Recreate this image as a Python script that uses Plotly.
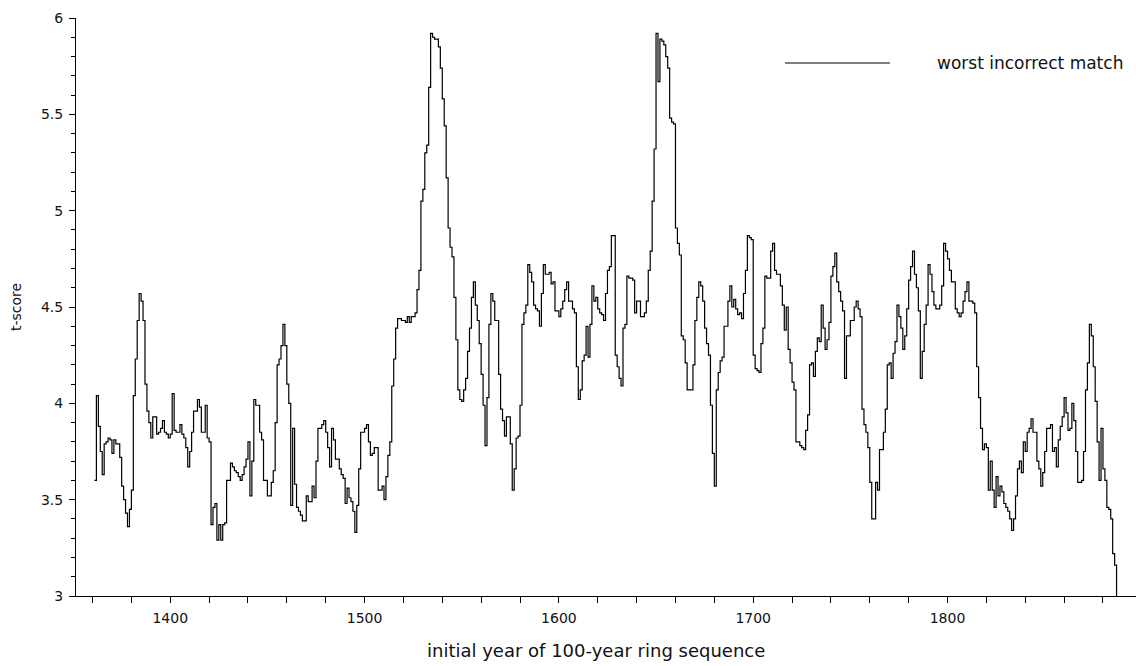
import plotly.graph_objects as go

# t-score of worst incorrect match vs. initial year of 100-year ring sequence
years_a = [1361, 1362, 1363, 1364, 1365, 1366, 1367, 1368, 1369, 1370, 1371, 1372, 1374, 1375,
           1376, 1377, 1378, 1379, 1380, 1381, 1382, 1383, 1384, 1385, 1386, 1387, 1388, 1389,
           1390, 1391, 1392, 1393, 1394, 1395, 1396, 1397, 1398, 1399, 1400, 1401, 1402, 1403,
           1404, 1405, 1406, 1407, 1408, 1409, 1410, 1411, 1412, 1414, 1415, 1416, 1417, 1418,
           1419, 1420, 1421, 1422, 1423, 1424, 1425, 1426, 1427, 1428, 1429, 1430, 1431, 1432,
           1433, 1434, 1435, 1436, 1437, 1438, 1439, 1440, 1441, 1442, 1443, 1444, 1446, 1447,
           1448, 1449, 1450, 1451, 1452, 1453, 1454, 1455, 1456, 1457, 1458, 1459, 1460, 1461,
           1462, 1463, 1464]
tscore_a = [3.60, 4.04, 3.88, 3.75, 3.63, 3.79, 3.80, 3.82, 3.81, 3.74, 3.81, 3.79, 3.72, 3.57,
            3.50, 3.43, 3.36, 3.45, 3.55, 4.04, 4.23, 4.43, 4.57, 4.53, 4.43, 4.10, 3.96, 3.90,
            3.82, 3.93, 3.93, 3.84, 3.85, 3.87, 3.91, 3.85, 3.84, 3.82, 3.84, 4.05, 3.86, 3.85,
            3.85, 3.89, 3.84, 3.82, 3.77, 3.67, 3.75, 3.85, 3.96, 4.02, 3.98, 3.85, 3.85, 3.99,
            3.82, 3.80, 3.37, 3.46, 3.48, 3.29, 3.37, 3.29, 3.37, 3.38, 3.60, 3.60, 3.69, 3.67,
            3.65, 3.64, 3.62, 3.60, 3.63, 3.67, 3.71, 3.80, 3.52, 3.70, 4.02, 3.99, 3.85, 3.81,
            3.60, 3.60, 3.52, 3.52, 3.59, 3.65, 3.90, 4.20, 4.23, 4.30, 4.41, 4.30, 4.10, 4.00,
            3.47, 3.87, 3.58]

years_b = [1465, 1466, 1467, 1468, 1469, 1470, 1471, 1472, 1473, 1474, 1475, 1476, 1477, 1478,
           1479, 1480, 1481, 1482, 1483, 1484, 1485, 1487, 1488, 1489, 1490, 1491, 1492, 1493,
           1494, 1495, 1496, 1497, 1498, 1500, 1501, 1502, 1503, 1504, 1505, 1506, 1507, 1508,
           1509, 1510, 1511, 1512, 1513, 1514, 1515, 1516, 1517, 1518, 1519, 1521, 1522, 1523,
           1524, 1525, 1526, 1527, 1528, 1529, 1530, 1531, 1532, 1533, 1534, 1535, 1536, 1537,
           1538, 1539, 1540, 1541, 1542, 1543, 1544, 1545, 1546, 1547, 1548, 1549, 1550, 1551,
           1552, 1553, 1554, 1555, 1556, 1557, 1558, 1559, 1560, 1561, 1562, 1563, 1564, 1565,
           1566, 1567, 1568, 1569, 1570, 1571, 1572, 1573, 1574, 1575, 1576, 1577, 1578, 1579,
           1580, 1581, 1582, 1583, 1584, 1585, 1586, 1587, 1588, 1589, 1590, 1591, 1592, 1593,
           1594, 1595, 1596, 1597, 1598, 1599, 1600, 1601, 1602, 1603, 1604, 1605, 1606, 1607,
           1608, 1609, 1610, 1611]
tscore_b = [3.46, 3.44, 3.42, 3.39, 3.39, 3.52, 3.49, 3.49, 3.57, 3.51, 3.70, 3.87, 3.87, 3.89,
            3.91, 3.85, 3.77, 3.67, 3.87, 3.81, 3.71, 3.66, 3.63, 3.61, 3.48, 3.56, 3.51, 3.49,
            3.44, 3.33, 3.47, 3.66, 3.85, 3.87, 3.89, 3.80, 3.73, 3.74, 3.77, 3.77, 3.55, 3.55,
            3.57, 3.50, 3.62, 3.73, 3.80, 4.09, 4.23, 4.39, 4.44, 4.44, 4.43, 4.42, 4.45, 4.42,
            4.45, 4.45, 4.47, 4.59, 4.69, 5.05, 5.11, 5.30, 5.34, 5.64, 5.92, 5.90, 5.89, 5.89,
            5.85, 5.74, 5.58, 5.44, 5.17, 4.91, 4.81, 4.76, 4.55, 4.33, 4.07, 4.02, 4.01, 4.07,
            4.13, 4.27, 4.39, 4.55, 4.63, 4.51, 4.43, 4.31, 4.15, 3.99, 3.78, 4.03, 4.41, 4.57,
            4.53, 4.43, 4.43, 4.15, 3.97, 3.91, 3.83, 3.93, 3.93, 3.79, 3.55, 3.66, 3.82, 3.83,
            3.99, 4.41, 4.47, 4.51, 4.72, 4.68, 4.63, 4.51, 4.49, 4.48, 4.40, 4.57, 4.72, 4.67,
            4.67, 4.68, 4.62, 4.63, 4.48, 4.48, 4.45, 4.49, 4.53, 4.59, 4.63, 4.53, 4.53, 4.49,
            4.47, 4.19, 4.02, 4.07]

years_c = list(range(1612, 1765))
tscore_c = [4.22, 4.25, 4.40, 4.24, 4.41, 4.61, 4.53, 4.55, 4.49, 4.47, 4.46, 4.43, 4.57, 4.69,
            4.71, 4.87, 4.87, 4.25, 4.19, 4.13, 4.09, 4.39, 4.41, 4.66, 4.65, 4.65, 4.64, 4.47,
            4.53, 4.53, 4.45, 4.45, 4.47, 4.53, 4.69, 4.79, 5.05, 5.32, 5.92, 5.67, 5.89, 5.88,
            5.86, 5.80, 5.74, 5.48, 5.46, 5.45, 4.91, 4.83, 4.77, 4.35, 4.33, 4.21, 4.07, 4.07,
            4.07, 4.20, 4.43, 4.55, 4.63, 4.61, 4.53, 4.39, 4.31, 4.25, 3.99, 3.74, 3.57, 4.07,
            4.16, 4.22, 4.24, 4.40, 4.40, 4.53, 4.61, 4.50, 4.54, 4.49, 4.46, 4.47, 4.44, 4.57,
            4.69, 4.87, 4.86, 4.85, 4.25, 4.18, 4.17, 4.16, 4.31, 4.39, 4.66, 4.65, 4.65, 4.79,
            4.83, 4.69, 4.67, 4.67, 4.61, 4.51, 4.38, 4.50, 4.28, 4.21, 4.11, 4.07, 3.80, 3.80,
            3.78, 3.77, 3.76, 3.86, 3.94, 4.20, 4.21, 4.14, 4.27, 4.34, 4.32, 4.51, 4.39, 4.28,
            4.33, 4.42, 4.66, 4.71, 4.78, 4.63, 4.58, 4.53, 4.48, 4.13, 4.35, 4.35, 4.43, 4.43,
            4.50, 4.53, 4.49, 4.45, 3.97, 3.89, 3.85, 3.77, 3.59, 3.40, 3.40, 3.59, 3.55]

years_d = list(range(1765, 1888))
tscore_d = [3.76, 3.76, 3.85, 3.97, 4.20, 4.21, 4.13, 4.26, 4.32, 4.51, 4.45, 4.39, 4.28, 4.35,
            4.49, 4.64, 4.71, 4.79, 4.67, 4.60, 4.48, 4.13, 4.27, 4.41, 4.51, 4.72, 4.67, 4.58,
            4.51, 4.49, 4.49, 4.51, 4.61, 4.83, 4.79, 4.75, 4.69, 4.63, 4.63, 4.49, 4.47, 4.45,
            4.47, 4.53, 4.58, 4.63, 4.53, 4.53, 4.52, 4.47, 4.19, 4.03, 3.87, 3.76, 3.79, 3.77,
            3.55, 3.70, 3.55, 3.46, 3.62, 3.52, 3.57, 3.54, 3.48, 3.46, 3.44, 3.40, 3.34, 3.40,
            3.52, 3.66, 3.70, 3.64, 3.80, 3.75, 3.85, 3.87, 3.92, 3.85, 3.85, 3.70, 3.66, 3.57,
            3.64, 3.75, 3.87, 3.87, 3.89, 3.75, 3.77, 3.67, 3.81, 3.88, 3.93, 4.03, 3.95, 3.86,
            3.87, 4.00, 3.91, 3.75, 3.59, 3.59, 3.60, 3.75, 4.07, 4.21, 4.41, 4.35, 4.19, 4.01,
            3.80, 3.60, 3.87, 3.66, 3.60, 3.46, 3.45, 3.40, 3.22, 3.16, 3.00]

years = years_a + years_b + years_c + years_d
tscore = tscore_a + tscore_b + tscore_c + tscore_d

series_name = "worst incorrect match"
x_title = "initial year of 100-year ring sequence"
y_title = "t-score"

FONT = "DejaVu Sans, Verdana, sans-serif"
TXT = "#111111"

fig = go.Figure()
fig.add_trace(go.Scatter(
    x=years, y=tscore, mode="lines", line=dict(color="black", width=1.2, shape="hv"),
    name=series_name, showlegend=False, hoverinfo="x+y"))

W, H = 1136, 666
L, R, T, B = 76, 0, 18, 70
pw, ph = W - L - R, H - T - B

def px(xp):
    return (xp - L) / pw

def py(yp):
    return (H - B - yp) / ph

# legend drawn as a line sample plus label
fig.add_shape(type="line", xref="paper", yref="paper", x0=px(785), x1=px(890), y0=py(63), y1=py(63),
              line=dict(color="black", width=1.2))
fig.add_annotation(xref="paper", yref="paper", x=px(935), y=py(63), text=series_name,
                   showarrow=False, xanchor="left", yanchor="middle",
                   font=dict(family=FONT, size=17, color=TXT))
fig.add_annotation(xref="paper", yref="paper", x=px(596), y=py(650), text=x_title,
                   showarrow=False, xanchor="center", yanchor="middle",
                   font=dict(family=FONT, size=18, color=TXT))
fig.add_annotation(xref="paper", yref="paper", x=px(16), y=0.5, text=y_title, textangle=-90,
                   showarrow=False, xanchor="center", yanchor="middle",
                   font=dict(family=FONT, size=14, color=TXT))

fig.update_layout(
    width=W, height=H, margin=dict(l=L, r=R, t=T, b=B, pad=0),
    paper_bgcolor="white", plot_bgcolor="white",
    font=dict(family=FONT, size=14, color=TXT),
    xaxis=dict(range=[1351.5, 1897], showgrid=False, zeroline=False, showline=True,
               linecolor="black", linewidth=1, ticks="outside", ticklen=6, tickcolor="black",
               tickwidth=1, dtick=100, tick0=1400, ticklabelstandoff=3,
               minor=dict(dtick=20, ticks="outside", ticklen=6, tickcolor="black", showgrid=False),
               tickfont=dict(family=FONT, size=14, color=TXT)),
    yaxis=dict(range=[3, 6], showgrid=False, zeroline=False, showline=True,
               linecolor="black", linewidth=1, ticks="outside", ticklen=6, tickcolor="black",
               tickwidth=1, dtick=0.5, tick0=3, ticklabelstandoff=3,
               minor=dict(dtick=0.1, ticks="outside", ticklen=4, tickcolor="black", showgrid=False),
               tickfont=dict(family=FONT, size=14, color=TXT)),
)

fig.write_html("out.html")
